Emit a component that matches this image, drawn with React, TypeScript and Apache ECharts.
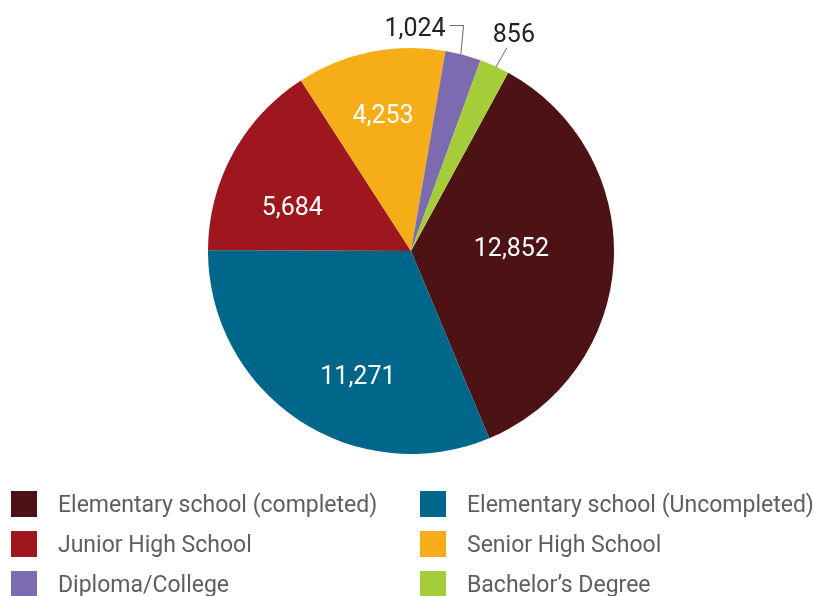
import React, { useEffect, useRef } from "react";
import * as echarts from "echarts";

const categories = [
  "Elementary school (completed)",
  "Elementary school (Uncompleted)",
  "Junior High School",
  "Senior High School",
  "Diploma/College",
  "Bachelor’s Degree",
];
const values = [12852, 11271, 5684, 4253, 1024, 856];
const colors = ["#4D1214", "#00678A", "#9E161E", "#F5AE18", "#7C6BAF", "#A5CD3A"];
const leftLegend = [categories[0], categories[2], categories[4]];
const rightLegend = [categories[1], categories[3], categories[5]];

const CX = 411;
const CY = 251;
const R = 203;
const START = 61.4;
// label nudges (styling) for inside labels
const NUDGE: Record<number, [number, number]> = {
  0: [-4, -9],
  1: [5, 38],
  2: [-27, 6],
  3: [-7, -34],
};
const FONT = "Roboto, 'DejaVu Sans', sans-serif";

function midAngle(i: number) {
  const total = values.reduce((a, b) => a + b, 0);
  let cum = 0;
  for (let k = 0; k < i; k++) cum += values[k];
  return ((START - ((cum + values[i] / 2) / total) * 360) * Math.PI) / 180;
}
function pointAt(i: number, frac: number) {
  const a = midAngle(i);
  return [CX + R * frac * Math.cos(a), CY - R * frac * Math.sin(a)];
}

export default function App() {
  const ref = useRef<HTMLDivElement>(null);
  useEffect(() => {
    if (!ref.current) return;
    const chart = echarts.init(ref.current, null, { renderer: "svg" });
    const legendBase = {
      orient: "vertical" as const,
      icon: "rect",
      itemWidth: 26,
      itemHeight: 26,
      itemGap: 14,
      top: 491,
      height: 200,
      padding: 0,
      textStyle: {
        fontFamily: FONT,
        fontSize: 23,
        color: "#5E5E5E",
        padding: [0, 0, 0, 16],
      },
    };
    chart.setOption({
      animation: false,
      color: colors,
      legend: [
        { ...legendBase, left: 11, data: leftLegend },
        { ...legendBase, left: 420, data: rightLegend },
      ],
      series: [
        {
          type: "pie",
          center: [CX, CY],
          radius: [0, R],
          startAngle: START,
          clockwise: true,
          avoidLabelOverlap: false,
          label: {
            show: true,
            position: "inside",
            formatter: (p: any) => p.value.toLocaleString("en-US"),
            color: "#ffffff",
            fontFamily: FONT,
            fontSize: 25,
          },
          labelLine: { show: false },
          labelLayout: (params: any) => {
            const i = params.dataIndex;
            if (NUDGE[i]) return { dx: NUDGE[i][0], dy: NUDGE[i][1] };
            if (i === 4) {
              const s = pointAt(i, 0.93);
              const e = [s[0] + 4, s[1] - 43];
              const t = [e[0] - 14, e[1]];
              return {
                x: t[0] - 4,
                y: t[1] + 2,
                align: "right",
                verticalAlign: "middle",
                labelLinePoints: [s, e, t],
              };
            }
            if (i === 5) {
              const s = pointAt(i, 0.92);
              const e = [s[0] + 19, s[1] - 33];
              return {
                x: e[0] + 7,
                y: e[1] - 2,
                align: "center",
                verticalAlign: "bottom",
                labelLinePoints: [s, e],
              };
            }
            return {};
          },
          data: categories.map((name, i) => ({
            name,
            value: values[i],
            ...(i >= 4
              ? {
                  label: { position: "outside", color: "#222222" },
                  labelLine: {
                    show: true,
                    length: 20,
                    length2: 10,
                    lineStyle: { color: "#666666", width: 1 },
                  },
                }
              : {}),
          })),
        },
      ],
    });
    return () => chart.dispose();
  }, []);
  return (
    <div
      ref={ref}
      style={{ position: "fixed", left: 0, top: 0, width: 813, height: 596 }}
    />
  );
}
